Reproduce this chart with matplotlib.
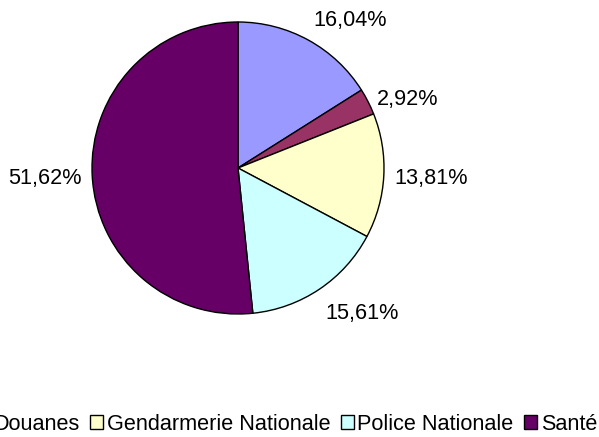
import numpy as np
import matplotlib.pyplot as plt

plt.rcParams['font.family'] = ['Liberation Sans', 'DejaVu Sans']

# data (first legend entry is cut off in the original, label is a guess)
labels = ['Justice', 'Douanes', 'Gendarmerie Nationale', 'Police Nationale', 'Santé']
shares = [16.04, 2.92, 13.81, 15.61, 51.62]
colors = ['#9999FF', '#993366', '#FFFFCC', '#CCFFFF', '#660066']

fig = plt.figure(figsize=(5.99, 4.37), dpi=100)
# pie centred near (238, 168) px, radius ~146 px
ax = fig.add_axes([(238 - 146) / 599, (437 - 168 - 146) / 437, 292 / 599, 292 / 437])
wedges, _ = ax.pie(shares, colors=colors, startangle=90, counterclock=False,
                   wedgeprops=dict(edgecolor='black', linewidth=1))
ax.set_xlim(-1, 1)
ax.set_ylim(-1, 1)
ax.set_aspect('equal')

# percentage labels outside each slice, anchored like a spreadsheet chart
for w, v in zip(wedges, shares):
    ang = np.deg2rad((w.theta1 + w.theta2) / 2)
    c, s = np.cos(ang), np.sin(ang)
    x, y = 1.07 * c, 1.07 * s
    ha = 'left' if c > 0.3 else ('right' if c < -0.3 else 'center')
    va = 'bottom' if s > 0.5 else ('top' if s < -0.5 else 'center_baseline')
    if s < -0.5:
        y -= 0.04
    ax.text(x, y, f'{v:.2f}'.replace('.', ',') + '%', ha=ha, va=va,
            fontsize=15.6, color='black')

fig.legend(wedges, labels, loc='center right',
           bbox_to_anchor=(597 / 599, 1 - 424 / 437), ncol=5, frameon=False,
           fontsize=15.6, handlelength=0.6, handleheight=0.6,
           handletextpad=0.15, columnspacing=0.5, borderpad=0, borderaxespad=0)

fig.savefig('out.png', dpi=100)
